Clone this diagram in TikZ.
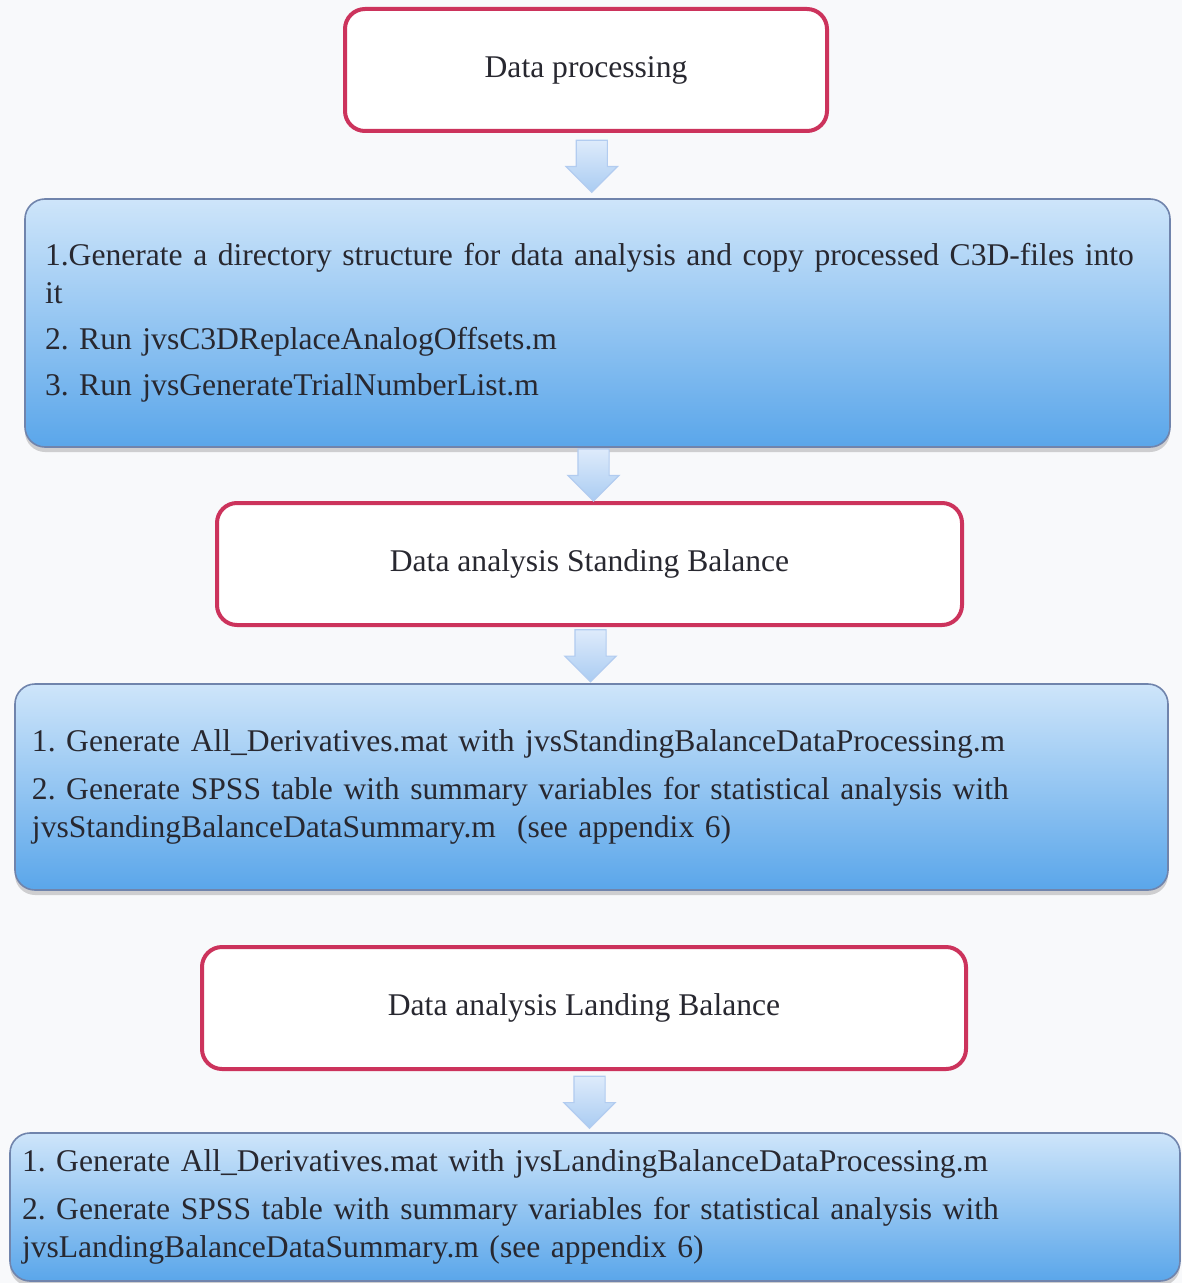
\documentclass[tikz,border=0pt]{standalone}
\usepackage{fontspec}
\setmainfont{Liberation Serif}
\usepackage{tikz}
\usetikzlibrary{shapes.arrows,shadows,calc}
\frenchspacing

\definecolor{pagebg}{RGB}{248,249,251}
\definecolor{stagered}{RGB}{204,51,92}
\definecolor{txtgray}{RGB}{40,40,48}
\definecolor{stepline}{RGB}{112,132,172}
\definecolor{steptop}{RGB}{206,229,250}
\definecolor{stepbottom}{RGB}{90,166,234}
\definecolor{arrowline}{RGB}{178,204,240}
\definecolor{arrowtop}{RGB}{222,235,251}
\definecolor{arrowbottom}{RGB}{170,204,242}

\begin{document}
\begin{tikzpicture}[x=0.5pt,y=-0.5pt,
  every node/.style={text=txtgray,font=\fontsize{15.8}{19}\selectfont},
  stage/.style={draw=stagered,line width=2pt,rounded corners=10pt,fill=white,minimum height=61pt},
  steps/.style={draw=stepline,line width=0.8pt,rounded corners=10pt,top color=steptop,bottom color=stepbottom,align=left,
    drop shadow={shadow xshift=0pt,shadow yshift=-2.5pt,opacity=0.35}},
  flowarrow/.style={single arrow,shape border rotate=270,draw=arrowline,line width=0.6pt,top color=arrowtop,bottom color=arrowbottom,
    minimum width=25pt,minimum height=26pt,single arrow head extend=5pt,inner xsep=7.5pt,inner ysep=6pt,anchor=tail}]
\useasboundingbox (0,0) rectangle (1182,1283);
\fill[pagebg] (0,0) rectangle (1182,1283);

% boxes
\node[stage,minimum width=241pt] (proc) at (586,70) {Data processing};
\node[steps,text width=552.5pt,inner xsep=10pt,minimum height=124pt] (prep) at (597.5,323)
  {1.Generate a directory structure for data analysis and copy processed C3D-files into\\it\\[4pt]
   2. Run jvsC3DReplaceAnalogOffsets.m\\[4pt]
   3. Run jvsGenerateTrialNumberList.m};
\node[stage,minimum width=372.5pt] (stand) at (589.5,564) {Data analysis Standing Balance};
\node[steps,text width=559.5pt,inner xsep=8.5pt,minimum height=103pt] (standrun) at (591.5,787)
  {1. Generate All\_Derivatives.mat with jvsStandingBalanceDataProcessing.m\\[5pt]
   2. Generate SPSS table with summary variables for statistical analysis with\\
   jvsStandingBalanceDataSummary.m\ \ (see appendix 6)};
\node[stage,minimum width=382pt] (land) at (584,1008) {Data analysis Landing Balance};
\node[steps,text width=573pt,inner xsep=6pt,minimum height=74pt] (landrun) at (595,1207)
  {1. Generate All\_Derivatives.mat with jvsLandingBalanceDataProcessing.m\\[5pt]
   2. Generate SPSS table with summary variables for statistical analysis with\\
   jvsLandingBalanceDataSummary.m (see appendix 6)};

% arrows
\node[flowarrow] (a1) at ($(proc.south)!.5!(prep.north)+(0,-26)$) {};
\node[flowarrow] (a2) at ($(prep.south)!.5!(stand.north)+(0,-26)$) {};
\node[flowarrow] (a3) at ($(stand.south)!.5!(standrun.north)+(0,-26)$) {};
\node[flowarrow] (a4) at ($(land.south)!.5!(landrun.north)+(0,-26)$) {};
\end{tikzpicture}
\end{document}
